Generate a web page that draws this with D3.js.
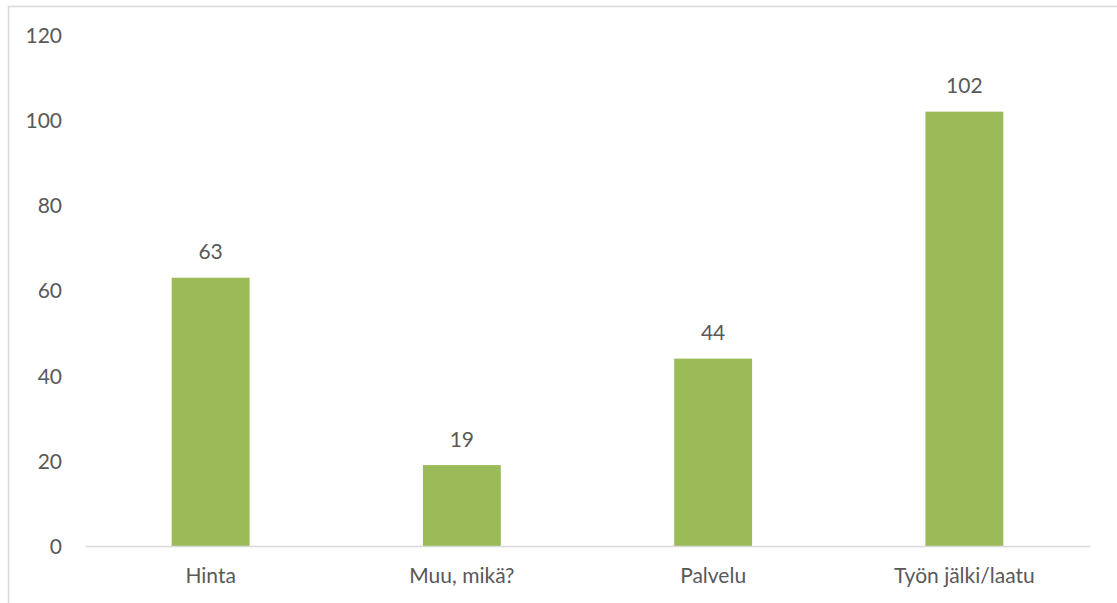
<!DOCTYPE html>
<html>
<head>
<meta charset="utf-8">
<script src="https://cdn.jsdelivr.net/npm/d3@7/dist/d3.min.js"></script>
<style>
  html, body { margin: 0; padding: 0; background: #ffffff; }
  svg { display: block; }
  text { font-family: Lato, "Open Sans", sans-serif; fill: #595959; }
</style>
</head>
<body>
<svg id="chart" width="1117" height="603"></svg>
<script>
const categories = ["Hinta", "Muu, mikä?", "Palvelu", "Työn jälki/laatu"];
const values = [63, 19, 44, 102];
const yTicks = [0, 20, 40, 60, 80, 100, 120];

const W = 1117, H = 603;
const plot = { left: 85, right: 1090, top: 35, bottom: 546 };
const fontSize = 21;
const svg = d3.select("#chart");

// chart frame (its right and bottom edges run past the visible area)
svg.append("rect")
  .attr("x", 8.5).attr("y", 6.5)
  .attr("width", W + 20).attr("height", H + 20)
  .attr("fill", "none")
  .attr("stroke", "#d9d9d9")
  .attr("stroke-width", 1.5);

const x = d3.scaleBand()
  .domain(categories)
  .range([plot.left, plot.right])
  .paddingInner(0.69)
  .paddingOuter(0.345);

const y = d3.scaleLinear()
  .domain([0, 120])
  .range([plot.bottom, plot.top]);

// value axis: labels only
const yAxis = svg.append("g")
  .attr("transform", `translate(${plot.left - 23},0)`)
  .call(d3.axisLeft(y).tickValues(yTicks).tickSize(0).tickPadding(0));
yAxis.select(".domain").remove();
yAxis.selectAll("text")
  .attr("font-size", fontSize)
  .attr("dy", "0.35em")
  .style("font-family", "Lato, 'Open Sans', sans-serif")
  .attr("fill", "#595959");

// bars
svg.append("g").selectAll("rect")
  .data(values)
  .join("rect")
  .attr("x", (d, i) => x(categories[i]))
  .attr("y", d => y(d))
  .attr("width", x.bandwidth())
  .attr("height", d => y(0) - y(d))
  .attr("fill", "#9bbb59");

// value labels
svg.append("g").selectAll("text")
  .data(values)
  .join("text")
  .attr("x", (d, i) => x(categories[i]) + x.bandwidth() / 2)
  .attr("y", d => y(d) - 18.5)
  .attr("text-anchor", "middle")
  .attr("font-size", fontSize)
  .text(d => d);

// category axis
const xAxis = svg.append("g")
  .attr("transform", `translate(0,${plot.bottom})`)
  .call(d3.axisBottom(x).tickSize(0).tickPadding(0));
xAxis.select(".domain")
  .attr("stroke", "#d9d9d9")
  .attr("stroke-width", 1.5);
xAxis.selectAll("text")
  .attr("font-size", fontSize)
  .attr("dy", 0)
  .attr("y", 37)
  .style("font-family", "Lato, 'Open Sans', sans-serif")
  .attr("fill", "#595959");
</script>
</body>
</html>
